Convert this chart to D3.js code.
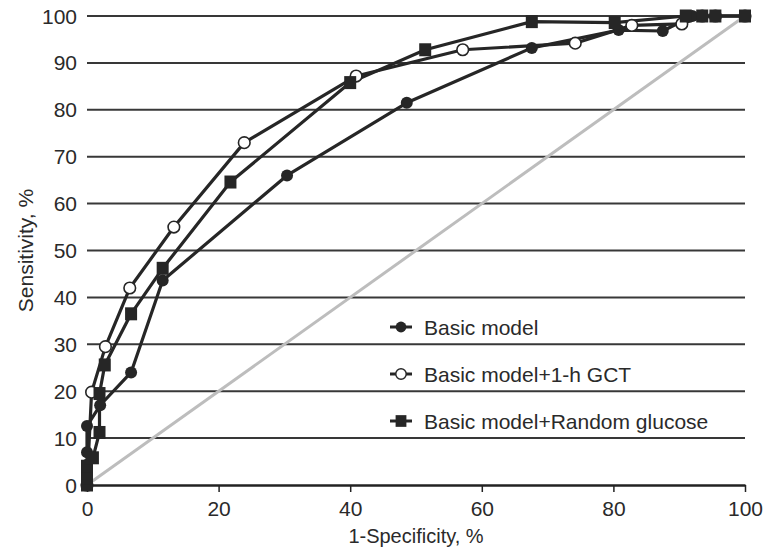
<!DOCTYPE html>
<html>
<head>
<meta charset="utf-8">
<script src="https://cdn.jsdelivr.net/npm/d3@7"></script>
<style>
  body { margin: 0; background: #fff; }
  text { font-family: "Liberation Sans", Arial, sans-serif; fill: #2a2a2a; }
</style>
</head>
<body>
<div id="chart"></div>
<script>
// ROC points, [1-specificity, sensitivity] in %
var seriesNames = ["Basic model", "Basic model+1-h GCT", "Basic model+Random glucose"];
var basicModel = [[0,0],[0,2],[0,4.3],[0,7],[0,12.6],[2,17],[6.7,24],[11.5,43.6],[30.4,66],[48.6,81.5],
  [67.6,93.2],[80.8,97],[87.5,96.8],[92,100],[100,100]];
var gctModel = [[0,0],[0.7,19.8],[2.8,29.5],[6.5,42],[13.2,55],[23.9,73],[40.9,87.2],
  [57.1,92.8],[74.2,94.2],[82.8,98],[90.4,98.3],[93.5,100],[95.5,100],[100,100]];
var glucoseModel = [[0,0],[0,1.5],[0,4],[0.9,5.8],[1.9,11.2],[1.9,19.5],[2.7,25.6],[6.7,36.5],[11.5,46.2],
  [21.8,64.6],[40,85.8],[51.4,92.8],[67.6,98.8],[80.2,98.6],[91,100],[93.5,100],[95.5,100],[100,100]];
var xTicks = [0, 20, 40, 60, 80, 100];
var yTicks = [0, 10, 20, 30, 40, 50, 60, 70, 80, 90, 100];

var W = 768, H = 553;
var margin = {top: 16, right: 23, bottom: 68, left: 87};
var width = W - margin.left - margin.right,
    height = H - margin.top - margin.bottom;

var svg = d3.select("#chart").append("svg")
    .attr("width", W)
    .attr("height", H);

var g = svg.append("g")
    .attr("transform", "translate(" + margin.left + "," + margin.top + ")");

var x = d3.scaleLinear().domain([0, 100]).range([0, width]);
var y = d3.scaleLinear().domain([0, 100]).range([height, 0]);

// horizontal gridlines
g.selectAll(".grid")
    .data(yTicks.filter(function(d) { return d > 0; }))
  .enter().append("line")
    .attr("x1", 0).attr("x2", width)
    .attr("y1", function(d) { return y(d); })
    .attr("y2", function(d) { return y(d); })
    .attr("stroke", "#383838")
    .attr("stroke-width", 2);

// y tick labels
g.selectAll(".ylab")
    .data(yTicks)
  .enter().append("text")
    .attr("x", -10)
    .attr("y", function(d) { return y(d); })
    .attr("dy", "0.36em")
    .attr("text-anchor", "end")
    .style("font-size", "21px")
    .text(function(d) { return d; });

// x axis
var xAxis = g.append("g")
    .attr("transform", "translate(0," + height + ")")
    .call(d3.axisBottom(x).tickValues(xTicks).tickSize(7).tickSizeOuter(0));
xAxis.select(".domain").attr("stroke", "#222").attr("stroke-width", 2.5);
xAxis.selectAll(".tick line").attr("stroke", "#222").attr("stroke-width", 1.5);
xAxis.selectAll(".tick text")
    .attr("dy", "1.0em")
    .style("font-size", "21px")
    .style("font-family", "'Liberation Sans', Arial, sans-serif")
    .attr("fill", "#2a2a2a");

// reference diagonal
g.append("line")
    .attr("x1", x(0)).attr("y1", y(0))
    .attr("x2", x(100)).attr("y2", y(100))
    .attr("stroke", "#bdbdbd")
    .attr("stroke-width", 3);

var line = d3.line()
    .x(function(d) { return x(d[0]); })
    .y(function(d) { return y(d[1]); });

var lineColor = "#262626";

function drawMarker(sel, type) {
  if (type === "filled") {
    sel.append("circle").attr("r", 6).attr("fill", lineColor);
  } else if (type === "open") {
    sel.append("circle").attr("r", 5.8).attr("fill", "#fff")
      .attr("stroke", lineColor).attr("stroke-width", 1.6);
  } else {
    sel.append("rect").attr("x", -6).attr("y", -6.5).attr("width", 12).attr("height", 13)
      .attr("fill", lineColor);
  }
}

var series = [
  {name: seriesNames[0], values: basicModel, marker: "filled"},
  {name: seriesNames[1], values: gctModel, marker: "open"},
  {name: seriesNames[2], values: glucoseModel, marker: "square"}
];

series.forEach(function(s) {
  g.append("path")
    .datum(s.values)
    .attr("fill", "none")
    .attr("stroke", lineColor)
    .attr("stroke-width", 3.2)
    .attr("stroke-linejoin", "round")
    .attr("d", line);
});

// open circles first, so the filled marks sit on top near the corners
[series[1], series[0], series[2]].forEach(function(s) {
  g.selectAll(null)
    .data(s.values)
  .enter().append("g")
    .attr("transform", function(d) { return "translate(" + x(d[0]) + "," + y(d[1]) + ")"; })
    .each(function() { drawMarker(d3.select(this), s.marker); });
});

// legend
var legend = svg.append("g").attr("transform", "translate(390,327)");
series.forEach(function(s, i) {
  var row = legend.append("g").attr("transform", "translate(0," + (i * 47) + ")");
  row.append("line").attr("x1", 0).attr("x2", 22)
    .attr("stroke", lineColor).attr("stroke-width", 3);
  drawMarker(row.append("g").attr("transform", "translate(11,0) scale(0.9)"), s.marker);
  row.append("text")
    .attr("x", 34)
    .attr("dy", "0.36em")
    .style("font-size", "21px")
    .text(s.name);
});

// axis titles
svg.append("text")
    .attr("x", margin.left + width / 2)
    .attr("y", 543)
    .attr("text-anchor", "middle")
    .style("font-size", "20px")
    .text("1-Specificity, %");

svg.append("text")
    .attr("transform", "translate(33," + (margin.top + height / 2) + ") rotate(-90)")
    .attr("text-anchor", "middle")
    .style("font-size", "21px")
    .text("Sensitivity, %");
</script>
</body>
</html>
